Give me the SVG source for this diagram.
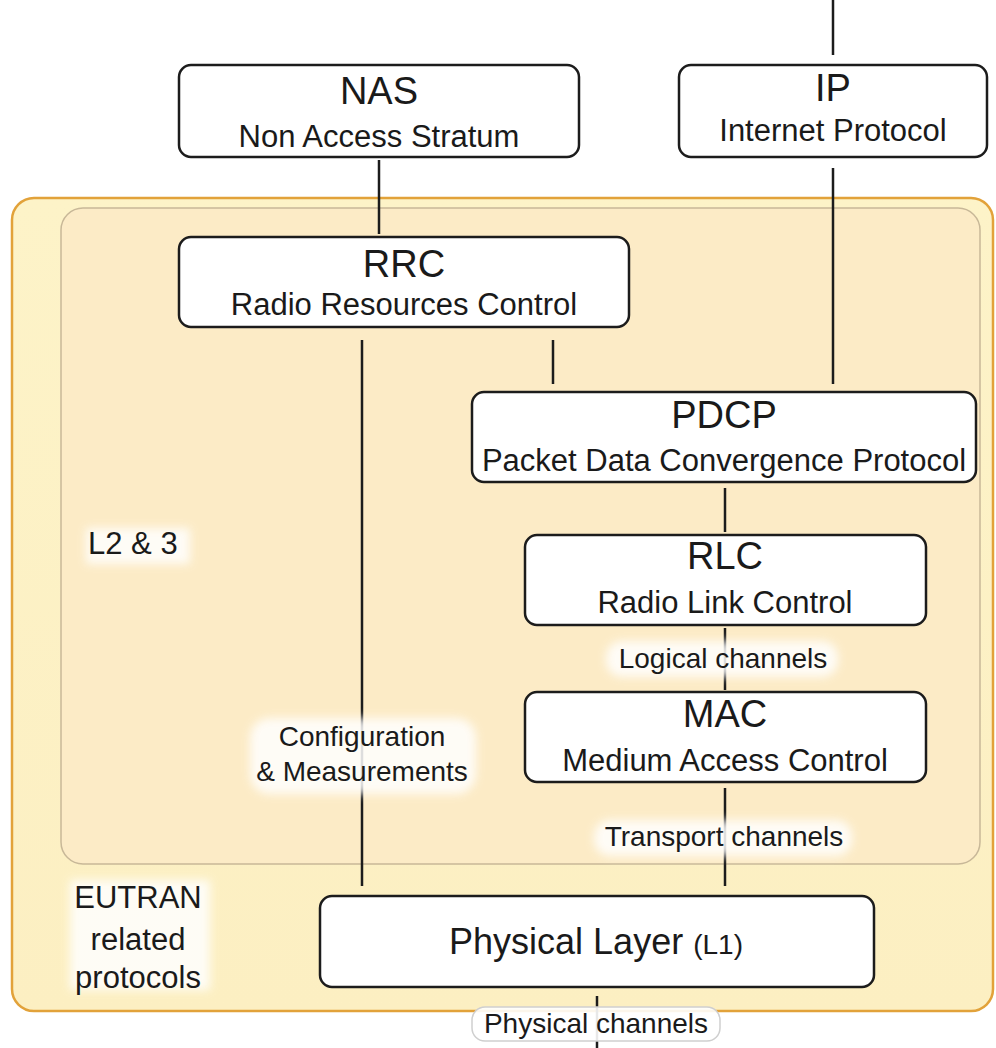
<svg xmlns="http://www.w3.org/2000/svg" width="996" height="1048" viewBox="0 0 996 1048">
<style>
text{font-family:"Liberation Sans",Arial,sans-serif;fill:#1a1a1a;text-anchor:middle}
.box{fill:#ffffff;stroke:#1c1c1c;stroke-width:2.5}
.t{font-size:38px}
.s{font-size:31px}
.l{font-size:28px}
.e{font-size:31px}
.ln{stroke:#1c1c1c;stroke-width:2.5;fill:none}
.glow{fill:#ffffff;opacity:0.85;filter:url(#blur)}
</style>
<defs>
<filter id="blur" x="-20%" y="-50%" width="140%" height="200%"><feGaussianBlur stdDeviation="5"/></filter>
<linearGradient id="og" x1="0" y1="0" x2="0" y2="1">
<stop offset="0" stop-color="#fdf3c8"/><stop offset="1" stop-color="#fcefc2"/>
</linearGradient>
</defs>
<rect width="996" height="1048" fill="#ffffff"/>
<g id="eutran">
<rect x="12" y="198" width="981" height="813" rx="22" fill="url(#og)" stroke="#e2a23a" stroke-width="2.5"/>
<rect class="glow" x="70" y="880" width="140" height="110" opacity="0.4"/>
<text class="e" x="138" y="908">EUTRAN</text>
<text class="e" x="138" y="950">related</text>
<text class="e" x="138" y="988">protocols</text>
</g>
<g id="l23">
<rect x="61" y="208" width="919" height="656" rx="22" fill="#fcebc6" stroke="#c8b898" stroke-width="1.5"/>
<rect class="glow" x="86" y="528" width="104" height="36" opacity="0.5"/>
<text class="e" x="88" y="554" style="text-anchor:start">L2 &amp; 3</text>
</g>
<g id="connectors">
<line class="ln" x1="833" y1="0" x2="833" y2="55"/>
<line class="ln" x1="379" y1="160" x2="379" y2="234"/>
<line class="ln" x1="833" y1="168" x2="833" y2="384"/>
<line class="ln" x1="553" y1="340" x2="553" y2="384"/>
<line class="ln" x1="362" y1="340" x2="362" y2="886"/>
<line class="ln" x1="725" y1="488" x2="725" y2="532"/>
<line class="ln" x1="725" y1="628" x2="725" y2="690"/>
<line class="ln" x1="725" y1="788" x2="725" y2="886"/>
<line class="ln" x1="597" y1="996" x2="597" y2="1048"/>
</g>
<g id="nas">
<rect class="box" x="179" y="65" width="400" height="92" rx="12"/>
<text class="t" x="379" y="104">NAS</text>
<text class="s" x="379" y="147">Non Access Stratum</text>
</g>
<g id="ip">
<rect class="box" x="679" y="65" width="308" height="92" rx="12"/>
<text class="t" x="833" y="101">IP</text>
<text class="s" x="833" y="141">Internet Protocol</text>
</g>
<g id="rrc">
<rect class="box" x="179" y="237" width="450" height="90" rx="12"/>
<text class="t" x="404" y="277">RRC</text>
<text class="s" x="404" y="315">Radio Resources Control</text>
</g>
<g id="pdcp">
<rect class="box" x="472" y="392" width="504" height="90" rx="12"/>
<text class="t" x="724" y="428">PDCP</text>
<text class="s" x="724" y="471">Packet Data Convergence Protocol</text>
</g>
<g id="rlc">
<rect class="box" x="525" y="535" width="401" height="90" rx="12"/>
<text class="t" x="725" y="569">RLC</text>
<text class="s" x="725" y="613">Radio Link Control</text>
</g>
<g id="mac">
<rect class="box" x="525" y="692" width="401" height="90" rx="12"/>
<text class="t" x="725" y="727">MAC</text>
<text class="s" x="725" y="771">Medium Access Control</text>
</g>
<g id="phy">
<rect class="box" x="320" y="896" width="554" height="91" rx="12"/>
<text x="596" y="954"><tspan style="font-size:36px">Physical Layer </tspan><tspan style="font-size:28px">(L1)</tspan></text>
</g>
<g id="labels">
<rect class="glow" x="250" y="718" width="226" height="76" rx="20"/>
<text class="l" x="362" y="746">Configuration</text>
<text class="l" x="362" y="781">&amp; Measurements</text>
<rect class="glow" x="606" y="641" width="232" height="36" rx="16"/>
<text class="l" x="723" y="668">Logical channels</text>
<rect class="glow" x="594" y="820" width="258" height="36" rx="16"/>
<text class="l" x="724" y="846">Transport channels</text>
<rect x="472" y="1007" width="248" height="34" rx="13" fill="#ffffff" fill-opacity="0.9" stroke="#cfcfcf" stroke-width="1.5"/>
<text class="l" x="596" y="1033">Physical channels</text>
</g>
</svg>
